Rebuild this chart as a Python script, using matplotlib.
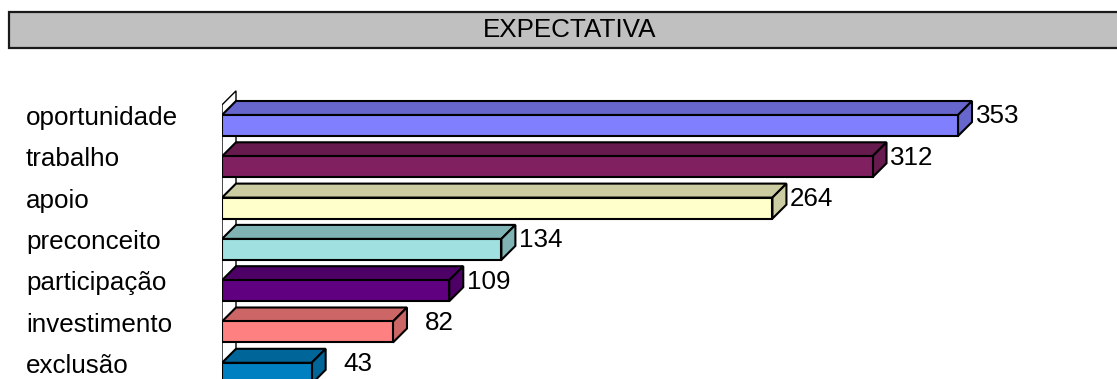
import matplotlib
matplotlib.use("Agg")
import matplotlib.pyplot as plt
import matplotlib.transforms as mtransforms
from matplotlib.patches import Polygon, Rectangle
from matplotlib.colors import to_rgb

plt.rcParams['font.family'] = ['Liberation Sans', 'DejaVu Sans']

title = "EXPECTATIVA"
categories = ['oportunidade', 'trabalho', 'apoio', 'preconceito',
              'participação', 'investimento', 'exclusão']
values = [353, 312, 264, 134, 109, 82, 43]
colors = ['#8080FF', '#802060', '#FFFFCC', '#A0E0E0', '#600080', '#FF8080', '#0080C0']

W, H = 1117, 379
fig = plt.figure(figsize=(W / 100, H / 100), dpi=100)

# plot area: x=0 at pixel 222, ~2.085 px per unit; category i centred at 125.5 + 41.3*i px
px_per_unit = 2.085
left_px = 222
ax = fig.add_axes([left_px / W, 0, (W - left_px) / W, 1])
ax.set_xlim(0, (W - left_px) / px_per_unit)
step_px = 41.3
ax.set_ylim((H - 125.5) / step_px, -125.5 / step_px)
ax.axis('off')

dx = 14 / px_per_unit      # depth offset in data units
dy = -14 / step_px
h = 21 / step_px           # bar thickness
lw = 1.5


def shade(c, f=0.8):
    r, g, b = to_rgb(c)
    return (r * f, g * f, b * f)


# side wall
n = len(categories)
wall = Polygon([(0, n - 0.5 + 1), (0, -0.5), (dx, -0.5 + dy), (dx, n - 0.5 + 1 + dy)],
               closed=True, facecolor='white', edgecolor='black', lw=1.0, zorder=1)
ax.add_patch(wall)

for i, (v, c) in enumerate(zip(values, colors)):
    top, bot = i - h / 2, i + h / 2
    ax.add_patch(Polygon([(0, top), (v, top), (v + dx, top + dy), (dx, top + dy)],
                         closed=True, facecolor=shade(c), edgecolor='black', lw=lw, zorder=3))
    ax.add_patch(Polygon([(v, top), (v, bot), (v + dx, bot + dy), (v + dx, top + dy)],
                         closed=True, facecolor=shade(c), edgecolor='black', lw=lw, zorder=3))
    ax.add_patch(Rectangle((0, top), v, h, facecolor=c, edgecolor='black', lw=lw, zorder=4))
    ax.text(v + dx + 47 / px_per_unit, i - 0.05, str(v), ha='right', va='baseline',
            fontsize=18.7, color='black')

trans = mtransforms.blended_transform_factory(fig.transFigure, ax.transData)
for i, cat in enumerate(categories):
    ax.text(26 / W, i - 0.01, cat, transform=trans, ha='left', va='baseline',
            fontsize=18.7, color='black')

# title box
fig.patches.append(Rectangle((9 / W, 1 - 48 / H), 1125 / W, 36 / H, transform=fig.transFigure,
                             facecolor='#C0C0C0', edgecolor='#1a1a1a', lw=1.6, zorder=0))
fig.text(570 / W, 1 - 30 / H, title, ha='center', va='center', fontsize=18.7, color='black')

fig.savefig('out.png', dpi=100)
